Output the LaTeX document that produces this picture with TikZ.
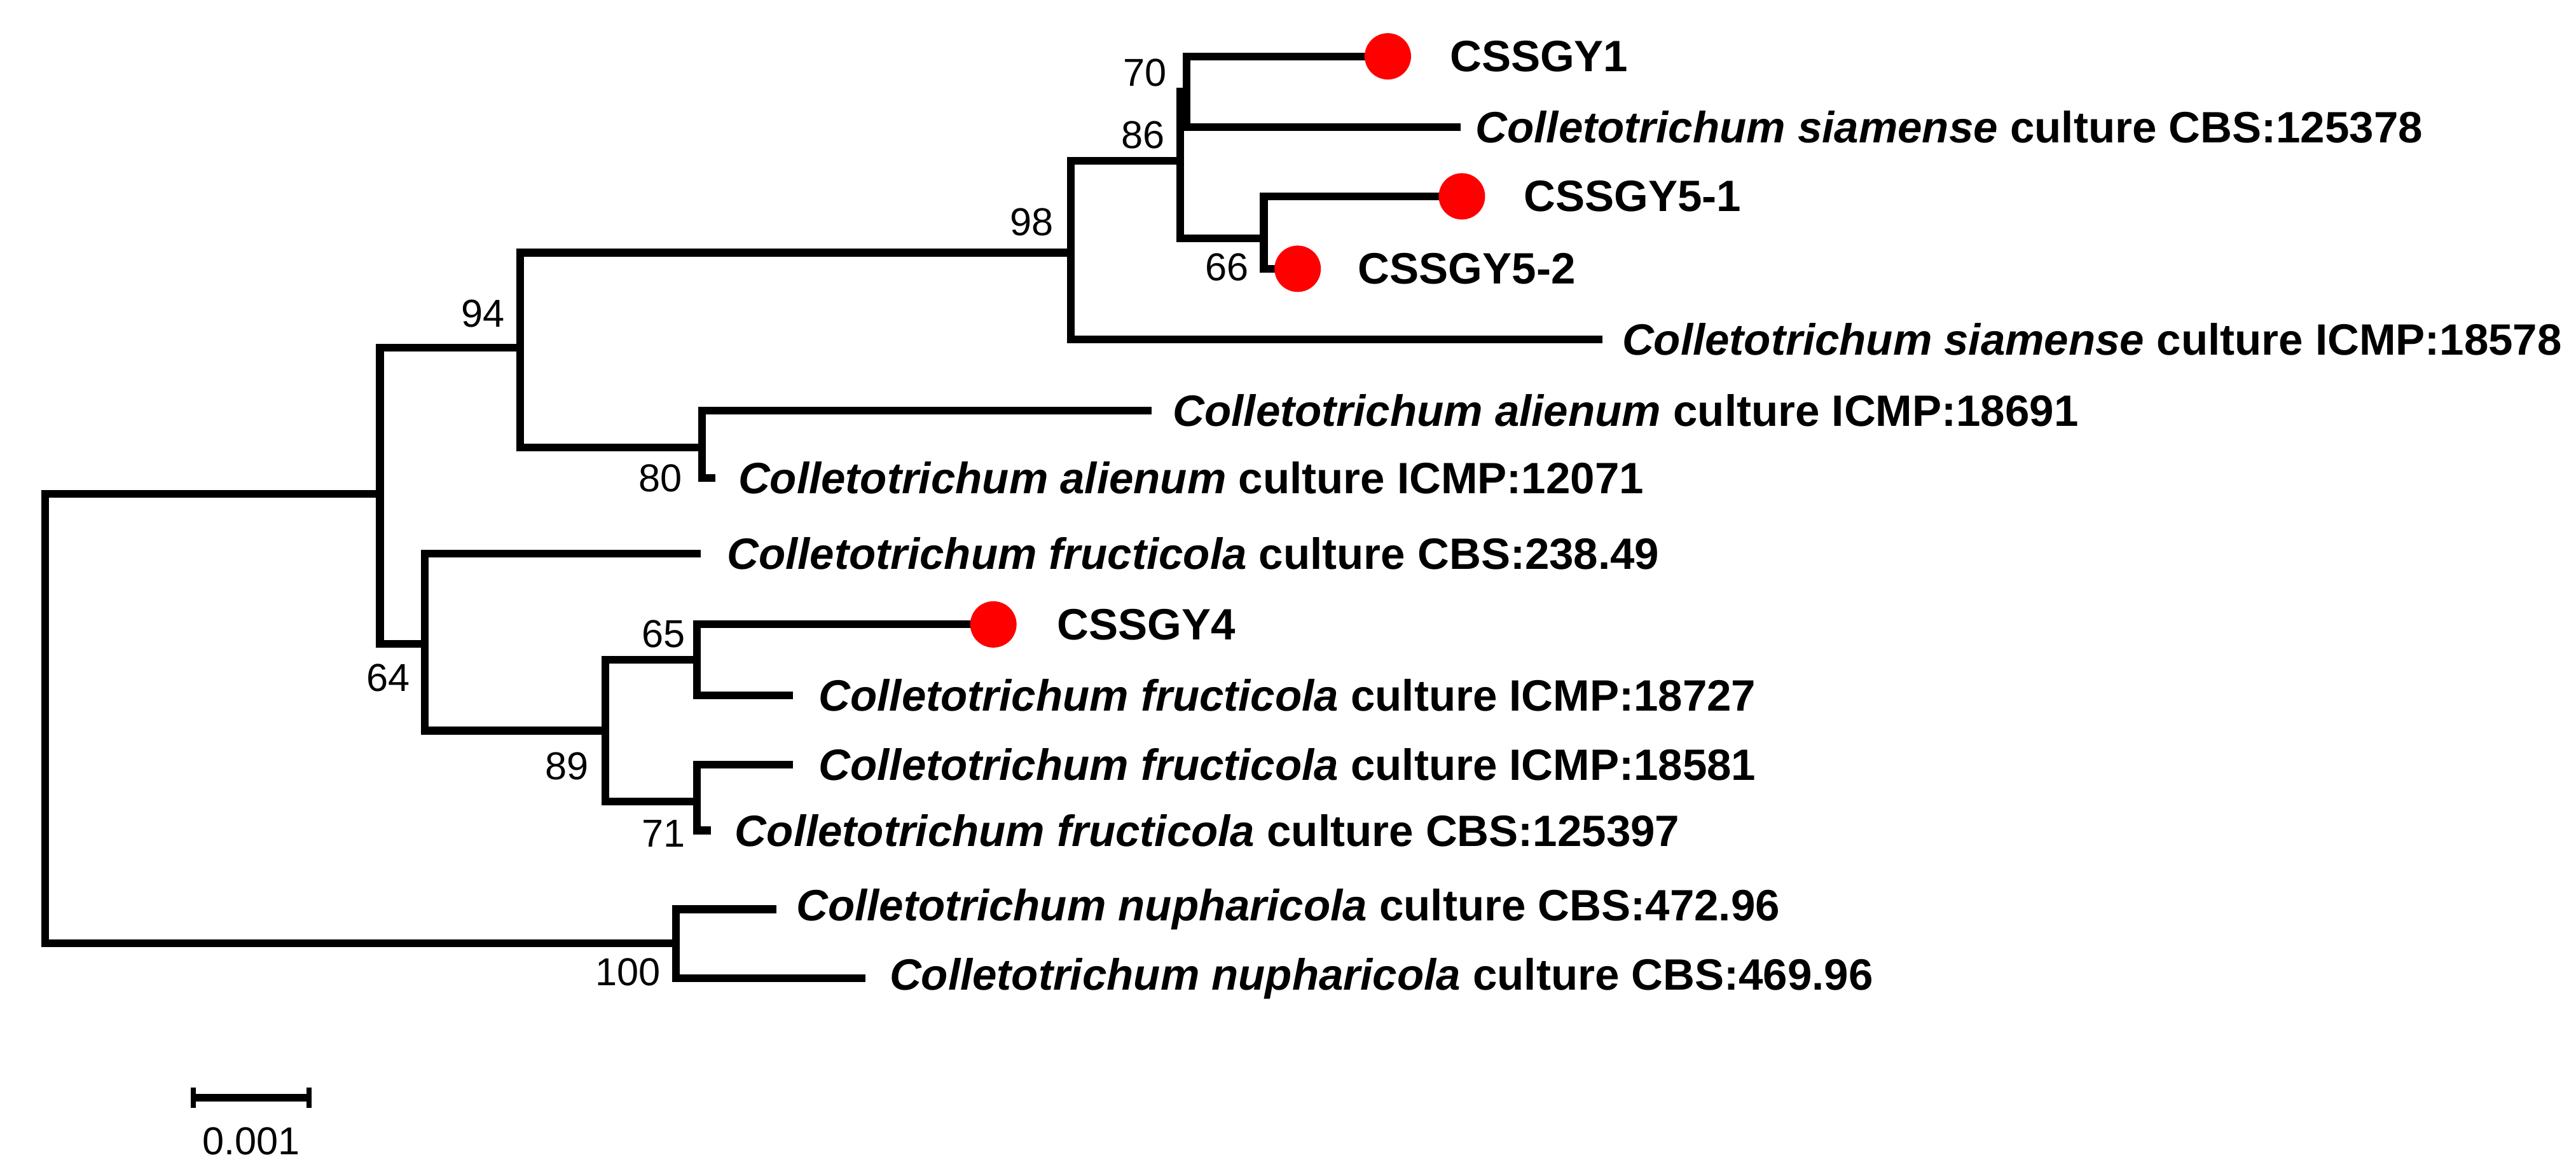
\documentclass[tikz,border=0pt]{standalone}
\usepackage{fontspec}
\setmainfont{Liberation Sans}
\begin{document}
\begin{tikzpicture}[x=0.0125cm,y=-0.0125cm,
  br/.style={line width=1.7pt,line cap=rect},
  tip/.style={anchor=west,inner sep=0pt,font=\fontsize{9.7}{11}\selectfont\bfseries},
  bs/.style={inner sep=0pt,font=\fontsize{8.6}{10}\selectfont},
  dot/.style={circle,fill=red,draw=none,minimum size=0.36cm,inner sep=0pt}]
\useasboundingbox (0,0) rectangle (1600,725);
% internal nodes
\coordinate (r) at (28,307);
\coordinate (A) at (236,307);
\coordinate (N) at (420,586);
\coordinate (B) at (323,216);
\coordinate (C) at (264,400);
\coordinate (D) at (665,157);
\coordinate (E) at (436,278);
\coordinate (F) at (733,100);
\coordinate (G) at (737,57);
\coordinate (H) at (785,148);
\coordinate (I) at (376,454);
\coordinate (J) at (433,410);
\coordinate (K) at (433,498);
% tips
\coordinate (t1) at (851,35);
\coordinate (t2) at (905,79);
\coordinate (t3) at (897,122);
\coordinate (t4) at (798,167);
\coordinate (t5) at (993,211);
\coordinate (t6) at (713,255);
\coordinate (t7) at (442,297);
\coordinate (t8) at (433,344);
\coordinate (t9) at (605,388);
\coordinate (t10) at (490,432);
\coordinate (t11) at (490,475);
\coordinate (t12) at (439,516);
\coordinate (t13) at (480,565);
\coordinate (t14) at (535,608);
% branches
\draw[br] (A) -| (r) |- (N);
\draw[br] (B) -| (A) |- (C);
\draw[br] (N |- t13) -- (t13); \draw[br] (t13 -| N) -- (N |- t14) -- (t14);
\draw[br] (B |- D) -- (B |- E) -- (E);
\draw[br] (B |- D) -- (D);
\draw[br] (D |- F) -- (D |- t5) -- (t5);
\draw[br] (D |- F) -- (F);
\draw[br] (F |- G) -- (F |- H) -- (H);
\draw[br] (F |- G) -- (G);
\draw[br] (G |- t1) -- (t1); \draw[br] (G |- t1) -- (G |- t2) -- (t2);
\draw[br] (H |- t3) -- (t3); \draw[br] (H |- t3) -- (H |- t4) -- (t4);
\draw[br] (E |- t6) -- (t6); \draw[br] (E |- t6) -- (E |- t7) -- (t7);
\draw[br] (C |- t8) -- (t8); \draw[br] (C |- t8) -- (C |- I) -- (I);
\draw[br] (I |- J) -- (I |- K);
\draw[br] (I |- J) -- (J); \draw[br] (I |- K) -- (K);
\draw[br] (J |- t9) -- (t9); \draw[br] (J |- t9) -- (J |- t10) -- (t10);
\draw[br] (K |- t11) -- (t11); \draw[br] (K |- t11) -- (K |- t12) -- (t12);
% dots
\node[dot] (d1) at (862,35) {};
\node[dot] (d3) at (908,122) {};
\node[dot] (d4) at (806,167) {};
\node[dot] (d9) at (617,388) {};
% labels
\node[tip] at (900,35) {CSSGY1};
\node[tip] at (916,79) {\itshape Colletotrichum siamense\upshape\ culture CBS:125378};
\node[tip] at (946,122) {CSSGY5-1};
\node[tip] at (843,167) {CSSGY5-2};
\node[tip] at (1007,211) {\itshape Colletotrichum siamense\upshape\ culture ICMP:18578};
\node[tip] at (728,255) {\itshape Colletotrichum alienum\upshape\ culture ICMP:18691};
\node[tip] at (458,297) {\itshape Colletotrichum alienum\upshape\ culture ICMP:12071};
\node[tip] at (451,344) {\itshape Colletotrichum fructicola\upshape\ culture CBS:238.49};
\node[tip] at (656,388) {CSSGY4};
\node[tip] at (508,432) {\itshape Colletotrichum fructicola\upshape\ culture ICMP:18727};
\node[tip] at (508,475) {\itshape Colletotrichum fructicola\upshape\ culture ICMP:18581};
\node[tip] at (456,516) {\itshape Colletotrichum fructicola\upshape\ culture CBS:125397};
\node[tip] at (494,565) {\itshape Colletotrichum nupharicola\upshape\ culture CBS:472.96};
\node[tip] at (552,608) {\itshape Colletotrichum nupharicola\upshape\ culture CBS:469.96};
% bootstrap
\node[bs] at (711,45) {70};
\node[bs] at (710,84) {86};
\node[bs] at (641,138) {98};
\node[bs] at (762,166) {66};
\node[bs] at (300,195) {94};
\node[bs] at (410,297) {80};
\node[bs] at (241,421) {64};
\node[bs] at (412,394) {65};
\node[bs] at (352,476) {89};
\node[bs] at (412,518) {71};
\node[bs] at (390,604) {100};
% scale bar
\coordinate (s1) at (120,682); \coordinate (s2) at (192,682);
\draw[line width=1.7pt] (s1) -- (s2);
\draw[line width=1.2pt] ([yshift=-0.08cm]s1) -- ([yshift=0.08cm]s1);
\draw[line width=1.2pt] ([yshift=-0.08cm]s2) -- ([yshift=0.08cm]s2);
\node[bs] at (156,709) {0.001};
\end{tikzpicture}
\end{document}
